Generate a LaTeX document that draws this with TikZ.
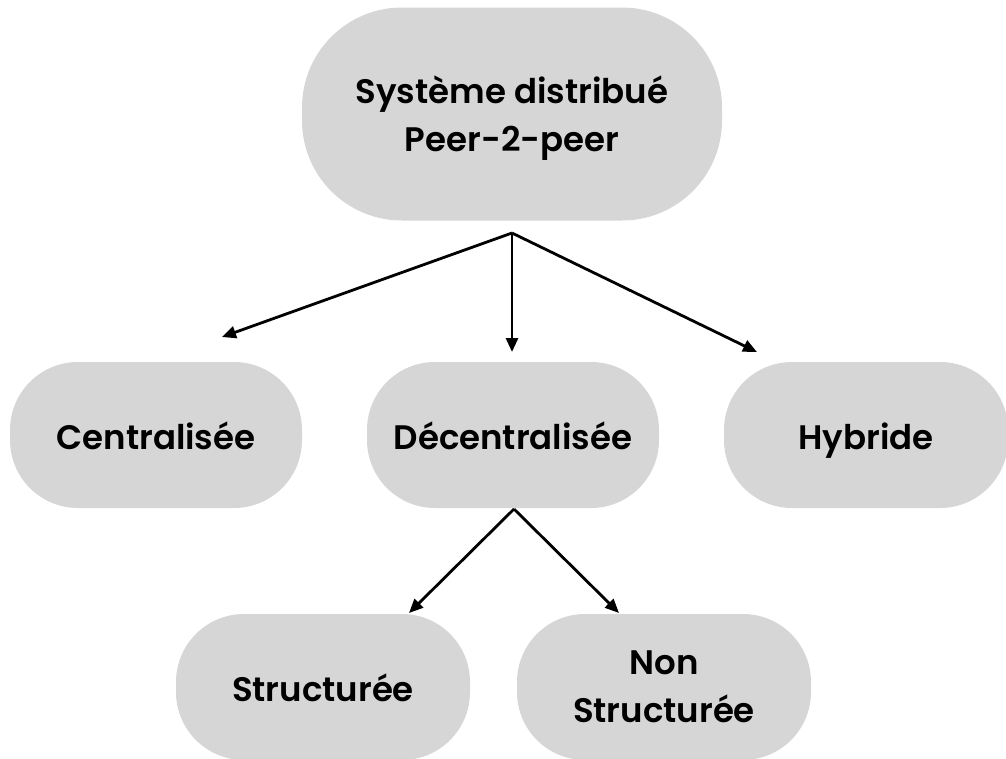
\documentclass[tikz,border=0pt]{standalone}
\usepackage{fontspec}
\setmainfont{Poppins}[BoldFont={Poppins SemiBold}]
\usetikzlibrary{arrows.meta}
\definecolor{pillgray}{RGB}{214,214,214}

\begin{document}
\begin{tikzpicture}[x=1pt, y=-1pt,
		pill/.style={fill=pillgray, rounded corners=68pt, minimum width=292pt, minimum height=146pt,
			align=center, text depth=0pt, font=\fontsize{34}{48}\selectfont\bfseries},
		oneline/.style={pill, text height=28pt},
		link/.style={line width=2.8pt, -{Triangle[length=14pt, width=12pt]}}]
	\useasboundingbox (0,0) rectangle (1006,758);
	% top of the tree
	\node[pill, minimum width=420pt, minimum height=213pt, rounded corners=100pt] (p2p) at (512,114) {Système distribué\\Peer-2-peer};
	% second row
	\node[oneline] (central) at (156,435) {Centralisée};
	\node[oneline] (decentral) at (513,435) {Décentralisée};
	\node[oneline, minimum width=284pt] (hybrid) at (866,435) {Hybride};
	% third row
	\node[oneline, minimum width=294pt] (struct) at (323,687) {Structurée};
	\node[pill, minimum width=294pt] (nonstruct) at (664,687) {Non\\Structurée};
	% arrows
	\coordinate (fork) at (512,233);
	\coordinate (toCentral) at (222,337);
	\coordinate (toDecentral) at (512,352);
	\coordinate (toHybrid) at (757,352);
	\coordinate (split) at (514,509);
	\coordinate (toStruct) at (409,613);
	\coordinate (toNonStruct) at (619,613);
	\foreach \t in {toCentral, toDecentral, toHybrid}
		\draw[link] (fork) -- (\t);
	\foreach \t in {toStruct, toNonStruct}
		\draw[link] (split) -- (\t);
\end{tikzpicture}
\end{document}
